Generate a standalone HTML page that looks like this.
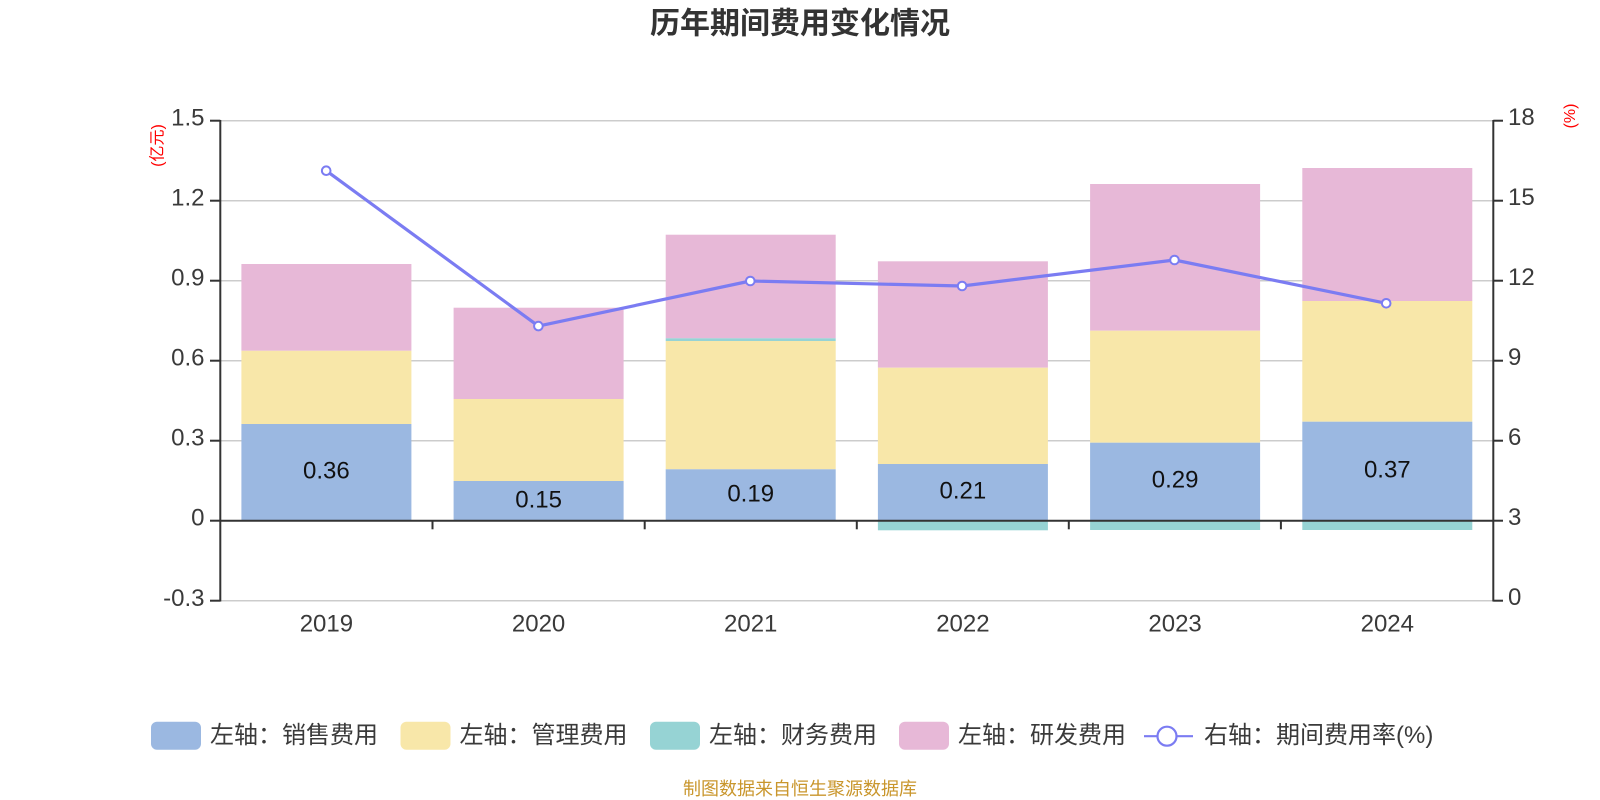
<!DOCTYPE html>
<html>
<head>
<meta charset="utf-8">
<style>
  html, body { margin: 0; padding: 0; background: #ffffff; }
  body { width: 1600px; height: 800px; overflow: hidden; }
  svg { display: block; }
  .t { font-family: "Liberation Sans", "Noto Sans CJK SC", sans-serif; }
</style>
</head>
<body>
<svg width="1600" height="800" viewBox="0 0 1600 800" xmlns="http://www.w3.org/2000/svg">
  <rect x="0" y="0" width="1600" height="800" fill="#ffffff"/>

  <!-- Title -->
  <text class="t" x="800" y="24" text-anchor="middle" dominant-baseline="central" font-size="30" font-weight="bold" fill="#333333">历年期间费用变化情况</text>

  <!-- Grid lines -->
  <g stroke="#cccccc" stroke-width="1.5">
    <line x1="220.3" y1="120.7" x2="1493.3" y2="120.7"/>
    <line x1="220.3" y1="200.7" x2="1493.3" y2="200.7"/>
    <line x1="220.3" y1="280.7" x2="1493.3" y2="280.7"/>
    <line x1="220.3" y1="360.7" x2="1493.3" y2="360.7"/>
    <line x1="220.3" y1="440.7" x2="1493.3" y2="440.7"/>
    <line x1="220.3" y1="600.7" x2="1493.3" y2="600.7"/>
  </g>

  <!-- Bars -->
  <!-- 2019 -->
  <rect x="241.4" y="264" width="170" height="86.8" fill="#e7b8d7"/>
  <rect x="241.4" y="350.8" width="170" height="73.2" fill="#f8e7a9"/>
  <rect x="241.4" y="424" width="170" height="96.7" fill="#9bb8e1"/>
  <!-- 2020 -->
  <rect x="453.6" y="307.7" width="170" height="91.3" fill="#e7b8d7"/>
  <rect x="453.6" y="399" width="170" height="82" fill="#f8e7a9"/>
  <rect x="453.6" y="481" width="170" height="39.7" fill="#9bb8e1"/>
  <!-- 2021 -->
  <rect x="665.7" y="234.7" width="170" height="103.6" fill="#e7b8d7"/>
  <rect x="665.7" y="338.3" width="170" height="2.7" fill="#96d3d4"/>
  <rect x="665.7" y="341" width="170" height="128.3" fill="#f8e7a9"/>
  <rect x="665.7" y="469.3" width="170" height="51.4" fill="#9bb8e1"/>
  <!-- 2022 -->
  <rect x="877.9" y="261.3" width="170" height="106.4" fill="#e7b8d7"/>
  <rect x="877.9" y="367.7" width="170" height="96.3" fill="#f8e7a9"/>
  <rect x="877.9" y="464" width="170" height="56.7" fill="#9bb8e1"/>
  <rect x="877.9" y="520.7" width="170" height="9.6" fill="#96d3d4"/>
  <!-- 2023 -->
  <rect x="1090.1" y="184" width="170" height="146.7" fill="#e7b8d7"/>
  <rect x="1090.1" y="330.7" width="170" height="112" fill="#f8e7a9"/>
  <rect x="1090.1" y="442.7" width="170" height="78" fill="#9bb8e1"/>
  <rect x="1090.1" y="520.7" width="170" height="9.3" fill="#96d3d4"/>
  <!-- 2024 -->
  <rect x="1302.3" y="168" width="170" height="133" fill="#e7b8d7"/>
  <rect x="1302.3" y="301" width="170" height="120.7" fill="#f8e7a9"/>
  <rect x="1302.3" y="421.7" width="170" height="99" fill="#9bb8e1"/>
  <rect x="1302.3" y="520.7" width="170" height="9.3" fill="#96d3d4"/>

  <!-- Bar labels -->
  <g class="t" font-size="24" fill="#111111" text-anchor="middle" dominant-baseline="central">
    <text x="326.4" y="471">0.36</text>
    <text x="538.6" y="500">0.15</text>
    <text x="750.7" y="494">0.19</text>
    <text x="962.9" y="491">0.21</text>
    <text x="1175.1" y="480">0.29</text>
    <text x="1387.3" y="470">0.37</text>
  </g>

  <!-- Axes -->
  <g stroke="#333333" stroke-width="2">
    <line x1="220.3" y1="120" x2="220.3" y2="601.5"/>
    <line x1="1493.3" y1="120" x2="1493.3" y2="601.5"/>
    <line x1="220.3" y1="520.7" x2="1493.3" y2="520.7"/>
    <!-- left ticks -->
    <line x1="210" y1="120.7" x2="220.3" y2="120.7"/>
    <line x1="210" y1="200.7" x2="220.3" y2="200.7"/>
    <line x1="210" y1="280.7" x2="220.3" y2="280.7"/>
    <line x1="210" y1="360.7" x2="220.3" y2="360.7"/>
    <line x1="210" y1="440.7" x2="220.3" y2="440.7"/>
    <line x1="210" y1="520.7" x2="220.3" y2="520.7"/>
    <line x1="210" y1="600.7" x2="220.3" y2="600.7"/>
    <!-- right ticks -->
    <line x1="1493.3" y1="120.7" x2="1503" y2="120.7"/>
    <line x1="1493.3" y1="200.7" x2="1503" y2="200.7"/>
    <line x1="1493.3" y1="280.7" x2="1503" y2="280.7"/>
    <line x1="1493.3" y1="360.7" x2="1503" y2="360.7"/>
    <line x1="1493.3" y1="440.7" x2="1503" y2="440.7"/>
    <line x1="1493.3" y1="520.7" x2="1503" y2="520.7"/>
    <line x1="1493.3" y1="600.7" x2="1503" y2="600.7"/>
    <!-- x ticks -->
    <line x1="432.5" y1="520.7" x2="432.5" y2="529.3"/>
    <line x1="644.7" y1="520.7" x2="644.7" y2="529.3"/>
    <line x1="856.8" y1="520.7" x2="856.8" y2="529.3"/>
    <line x1="1068.8" y1="520.7" x2="1068.8" y2="529.3"/>
    <line x1="1280.9" y1="520.7" x2="1280.9" y2="529.3"/>
  </g>

  <!-- Left axis labels -->
  <g class="t" font-size="24" fill="#3a3a3a" text-anchor="end" dominant-baseline="central">
    <text x="204.5" y="118.2">1.5</text>
    <text x="204.5" y="198.2">1.2</text>
    <text x="204.5" y="278.2">0.9</text>
    <text x="204.5" y="358.2">0.6</text>
    <text x="204.5" y="438.2">0.3</text>
    <text x="204.5" y="518.2">0</text>
    <text x="204.5" y="598.5">-0.3</text>
  </g>

  <!-- Right axis labels -->
  <g class="t" font-size="24" fill="#3a3a3a" text-anchor="start" dominant-baseline="central">
    <text x="1508" y="117.5">18</text>
    <text x="1508" y="197.5">15</text>
    <text x="1508" y="277.5">12</text>
    <text x="1508" y="357.5">9</text>
    <text x="1508" y="437.5">6</text>
    <text x="1508" y="517.5">3</text>
    <text x="1508" y="597.5">0</text>
  </g>

  <!-- X axis labels -->
  <g class="t" font-size="24" fill="#3a3a3a" text-anchor="middle" dominant-baseline="central">
    <text x="326.4" y="624">2019</text>
    <text x="538.6" y="624">2020</text>
    <text x="750.7" y="624">2021</text>
    <text x="962.9" y="624">2022</text>
    <text x="1175.1" y="624">2023</text>
    <text x="1387.3" y="624">2024</text>
  </g>

  <!-- Unit labels -->
  <text class="t" transform="translate(158,145.5) rotate(-90)" text-anchor="middle" dominant-baseline="central" font-size="16" fill="#ff0000">(亿元)</text>
  <text class="t" transform="translate(1570.5,116) rotate(-90)" text-anchor="middle" dominant-baseline="central" font-size="16" fill="#ff0000">(%)</text>

  <!-- Line series -->
  <polyline points="326.2,170.7 538.4,326.1 750.3,281 962.1,286 1174.5,260 1386.2,303.3" fill="none" stroke="#7b7cf2" stroke-width="3.2" stroke-linejoin="round"/>
  <g fill="#ffffff" stroke="#7b7cf2" stroke-width="2">
    <circle cx="326.2" cy="170.7" r="4.3"/>
    <circle cx="538.4" cy="326.1" r="4.3"/>
    <circle cx="750.3" cy="281" r="4.3"/>
    <circle cx="962.1" cy="286" r="4.3"/>
    <circle cx="1174.5" cy="260" r="4.3"/>
    <circle cx="1386.2" cy="303.3" r="4.3"/>
  </g>

  <!-- Legend -->
  <rect x="151" y="721.7" width="50" height="28" rx="6" ry="6" fill="#9bb8e1"/>
  <rect x="400.5" y="721.7" width="50" height="28" rx="6" ry="6" fill="#f8e7a9"/>
  <rect x="650" y="721.7" width="50" height="28" rx="6" ry="6" fill="#96d3d4"/>
  <rect x="899" y="721.7" width="50" height="28" rx="6" ry="6" fill="#e7b8d7"/>
  <line x1="1144" y1="736.2" x2="1193" y2="736.2" stroke="#7b7cf2" stroke-width="2.2"/>
  <circle cx="1167" cy="736.2" r="9.5" fill="#ffffff" stroke="#7b7cf2" stroke-width="2.2"/>
  <g class="t" font-size="24" fill="#3a3a3a" dominant-baseline="central">
    <text x="210" y="735.7">左轴：销售费用</text>
    <text x="459.5" y="735.7">左轴：管理费用</text>
    <text x="709" y="735.7">左轴：财务费用</text>
    <text x="958" y="735.7">左轴：研发费用</text>
    <text x="1204" y="735.7">右轴：期间费用率(%)</text>
  </g>

  <!-- Footer -->
  <text class="t" x="800" y="789" text-anchor="middle" dominant-baseline="central" font-size="18" fill="#c9962c">制图数据来自恒生聚源数据库</text>
</svg>
</body>
</html>
